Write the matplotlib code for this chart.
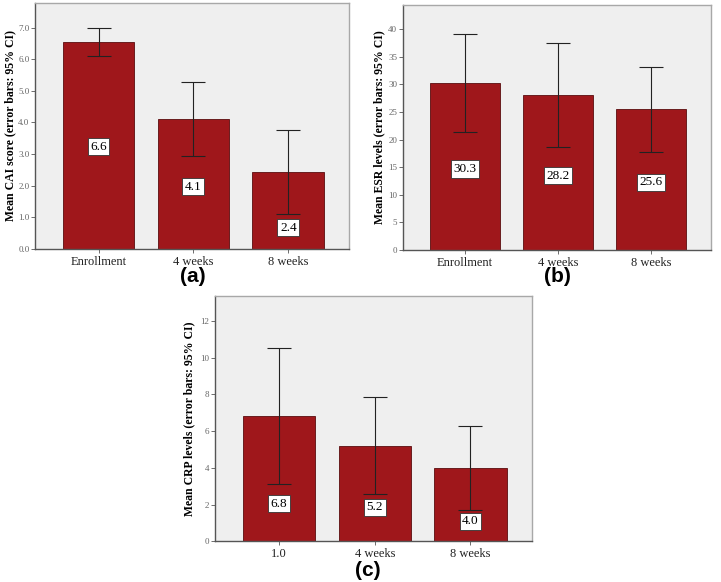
import numpy as np
import matplotlib.pyplot as plt

# panel (a) - CAI score
cai_labels = ['Enrollment', '4 weeks', '8 weeks']
cai_mean = [6.55, 4.1, 2.44]
cai_lo = [6.1, 2.94, 1.10]
cai_hi = [6.98, 5.27, 3.77]
cai_text = ['6.6', '4.1', '2.4']
cai_text_y = [3.23, 1.97, 0.67]

# panel (b) - ESR levels
esr_labels = ['Enrollment', '4 weeks', '8 weeks']
esr_mean = [30.25, 28.1, 25.6]
esr_lo = [21.3, 18.6, 17.8]
esr_hi = [39.2, 37.6, 33.2]
esr_text = ['30.3', '28.2', '25.6']
esr_text_y = [14.7, 13.5, 12.3]

# panel (c) - CRP levels
crp_labels = ['1.0', '4 weeks', '8 weeks']
crp_mean = [6.82, 5.2, 3.99]
crp_lo = [3.10, 2.59, 1.72]
crp_hi = [10.52, 7.87, 6.27]
crp_text = ['6.8', '5.2', '4.0']
crp_text_y = [2.05, 1.85, 1.09]

BAR = '#9f171b'
BG = '#efefef'
SERIF = ['Liberation Serif', 'DejaVu Serif']


def draw_panel(ax, labels, mean, lo, hi, text, text_y, ymax, yticks, fmt, ylabel, label_x):
    x = np.arange(len(labels))
    mean = np.array(mean)
    err = [mean - np.array(lo), np.array(hi) - mean]
    ax.set_facecolor(BG)
    ax.bar(x, mean, width=0.755, color=BAR, edgecolor='#5a0c0e', linewidth=0.6, zorder=2)
    ax.errorbar(x, mean, yerr=err, fmt='none', ecolor='#222222', elinewidth=0.8,
                capsize=8.4, capthick=0.8, zorder=3)
    for xi, t, ty in zip(x, text, text_y):
        ax.text(xi, ty, t, ha='center', va='center', fontsize=9.5, family=SERIF,
                zorder=4, bbox=dict(boxstyle='square,pad=0.2', fc='white', ec='#333333', lw=0.6))
    ax.set_xlim(-0.67, 2.64)
    ax.set_ylim(0, ymax)
    ax.set_xticks(x)
    ax.set_xticklabels(labels, family=SERIF, fontsize=9, color='#222222')
    ax.set_yticks(yticks)
    ax.set_yticklabels([fmt.format(v) for v in yticks], family=SERIF, fontsize=6.5, color='#666666')
    ax.tick_params(axis='both', length=3, width=0.6, color='#555555', pad=2)
    ax.tick_params(axis='y', pad=1)
    for s in ax.spines.values():
        s.set_color('#a8a8a8')
        s.set_linewidth(1.0)
    ax.spines['bottom'].set_color('#555555')
    ax.spines['left'].set_color('#555555')
    ax.set_ylabel(ylabel, family=SERIF, fontsize=8.5, fontweight='bold')
    ax.yaxis.set_label_coords(label_x, 0.5)


fig = plt.figure(figsize=(7.21, 5.82), dpi=100)

ax_a = fig.add_axes([0.0485, 0.5722, 0.4355, 0.4227])
draw_panel(ax_a, cai_labels, cai_mean, cai_lo, cai_hi, cai_text, cai_text_y,
           7.78, np.arange(0, 7.5, 1.0), '{:.1f}', 'Mean CAI score (error bars: 95% CI)', -0.06)

ax_b = fig.add_axes([0.5585, 0.5704, 0.4272, 0.4210])
draw_panel(ax_b, esr_labels, esr_mean, esr_lo, esr_hi, esr_text, esr_text_y,
           44.4, np.arange(0, 41, 5), '{:.0f}', 'Mean ESR levels (error bars: 95% CI)', -0.058)

ax_c = fig.add_axes([0.2982, 0.0699, 0.4393, 0.4215])
draw_panel(ax_c, crp_labels, crp_mean, crp_lo, crp_hi, crp_text, crp_text_y,
           13.35, np.arange(0, 13, 2), '{:.0f}', 'Mean CRP levels (error bars: 95% CI)', -0.062)

for txt, px, py in [('(a)', 193, 277), ('(b)', 557, 277), ('(c)', 368, 570)]:
    fig.text(px / 721, 1 - py / 582, txt, ha='center', va='center', fontsize=15,
             fontweight='bold', family=['Liberation Sans', 'DejaVu Sans'])

fig.savefig('out.png', dpi=100)
